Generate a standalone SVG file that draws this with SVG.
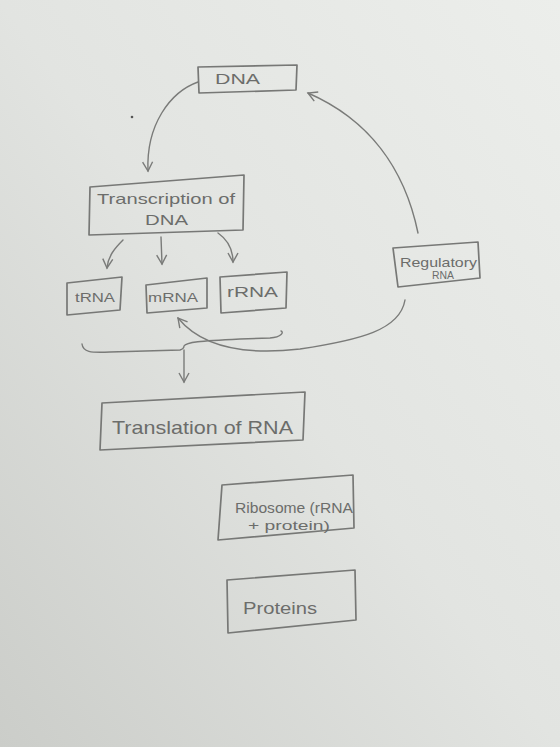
<svg xmlns="http://www.w3.org/2000/svg" width="560" height="747" viewBox="0 0 560 747">
<defs>
<linearGradient id="bg" x1="1" y1="0" x2="0" y2="1">
<stop offset="0" stop-color="#eceeeb"/>
<stop offset="0.5" stop-color="#e2e4e1"/>
<stop offset="1" stop-color="#cbcdc9"/>
</linearGradient>
<marker id="ah" viewBox="0 0 12 12" refX="10" refY="6" markerWidth="12" markerHeight="12" markerUnits="userSpaceOnUse" orient="auto">
<path d="M1,1 L10,6 L1,11" fill="none" stroke="#7a7b79" stroke-width="1.4"/>
</marker>
<style>
.box{fill:none;stroke:#777876;stroke-width:1.7;stroke-linejoin:round}
.t{font-family:"Liberation Sans","DejaVu Sans",sans-serif;fill:#6c6d6b}
.c{fill:none;stroke:#7a7b79;stroke-width:1.4;stroke-linecap:round}
</style>
</defs>
<rect width="560" height="747" fill="url(#bg)"/>
<circle cx="132" cy="117" r="1.3" fill="#555"/>

<g id="dna">
<polygon class="box" points="198,67 297,65 296,90 199,93"/>
<text class="t" x="215" y="84" font-size="15" textLength="45" lengthAdjust="spacingAndGlyphs">DNA</text>
</g>
<g id="transcription">
<polygon class="box" points="90,187 244,175 243,230 89,235"/>
<text class="t" x="97" y="204" font-size="15" textLength="138" lengthAdjust="spacingAndGlyphs">Transcription of</text>
<text class="t" x="145" y="225" font-size="15" textLength="43" lengthAdjust="spacingAndGlyphs">DNA</text>
</g>
<g id="trna">
<polygon class="box" points="67,283 122,277 120,310 67,315"/>
<text class="t" x="75" y="302" font-size="13" textLength="40" lengthAdjust="spacingAndGlyphs">tRNA</text>
</g>
<g id="mrna">
<polygon class="box" points="146,285 207,278 207,308 147,313"/>
<text class="t" x="148" y="302" font-size="13" textLength="50" lengthAdjust="spacingAndGlyphs">mRNA</text>
</g>
<g id="rrna">
<polygon class="box" points="220,277 287,272 286,308 221,313"/>
<text class="t" x="227" y="297" font-size="14" textLength="51" lengthAdjust="spacingAndGlyphs">rRNA</text>
</g>
<g id="regulatory">
<polygon class="box" points="393,248 478,242 480,278 398,287"/>
<text class="t" x="400" y="267" font-size="13" textLength="77" lengthAdjust="spacingAndGlyphs">Regulatory</text>
<text class="t" x="432" y="279" font-size="10" textLength="22" lengthAdjust="spacingAndGlyphs">RNA</text>
</g>
<g id="translation">
<polygon class="box" points="102,403 305,392 303,440 100,450"/>
<text class="t" x="112" y="434" font-size="19" textLength="181" lengthAdjust="spacingAndGlyphs">Translation of RNA</text>
</g>
<g id="ribosome">
<polygon class="box" points="222,485 353,475 354,528 218,540"/>
<text class="t" x="235" y="513" font-size="14" textLength="118" lengthAdjust="spacingAndGlyphs">Ribosome (rRNA</text>
<text class="t" x="248" y="530" font-size="12" textLength="82" lengthAdjust="spacingAndGlyphs">+ protein)</text>
</g>
<g id="proteins">
<polygon class="box" points="227,580 355,570 356,620 228,633"/>
<text class="t" x="243" y="614" font-size="16" textLength="74" lengthAdjust="spacingAndGlyphs">Proteins</text>
</g>

<g id="connectors">
<path class="c" d="M198,82 C170,92 146,125 148,171" marker-end="url(#ah)"/>
<path class="c" d="M418,233 C405,170 370,120 308,93" marker-end="url(#ah)"/>
<path class="c" d="M123,240 C115,248 108,256 107,268" marker-end="url(#ah)"/>
<path class="c" d="M161,237 L162,264" marker-end="url(#ah)"/>
<path class="c" d="M218,233 C228,240 233,250 233,262" marker-end="url(#ah)"/>
<path class="c" d="M82,344 C83,352 90,353 110,352 L180,350 C183,349 184,347 184,346 C186,342 200,341 240,339 L270,338 C282,337 284,332 281,331"/>
<path class="c" d="M184,350 L184,382" marker-end="url(#ah)"/>
<path class="c" d="M405,300 C400,330 360,340 300,349 C240,356 200,345 178,318" marker-end="url(#ah)"/>
</g>
</svg>
